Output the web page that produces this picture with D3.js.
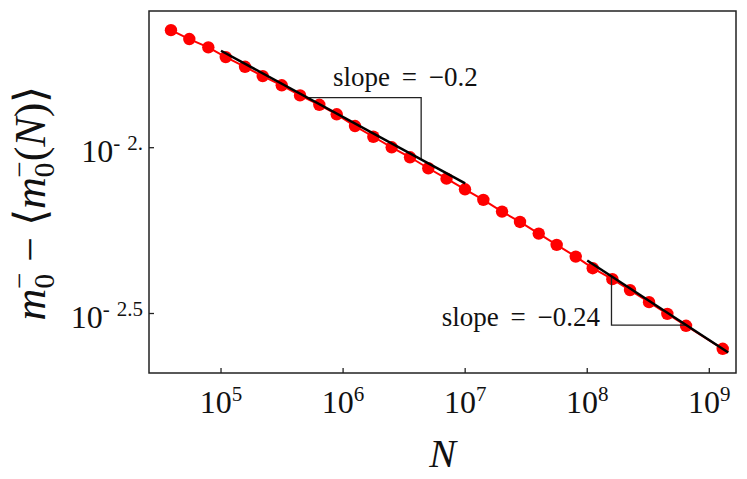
<!DOCTYPE html>
<html>
<head>
<meta charset="utf-8">
<script src="https://cdn.jsdelivr.net/npm/d3@7"></script>
<style>
  body { margin: 0; background: #fff; }
</style>
</head>
<body>
<div id="chart"></div>
<script>
// system sizes N and the gap m0- - <m0-(N)>
const sizeN = [3.89e4, 5.50e4, 7.87e4, 1.093e5, 1.573e5, 2.196e5, 3.143e5, 4.439e5, 6.387e5, 8.868e5,
  1.252e6, 1.769e6, 2.502e6, 3.535e6, 4.992e6, 7.037e6, 9.97e6, 1.409e7, 2.005e7, 2.814e7,
  4.005e7, 5.62e7, 8.05e7, 1.109e8, 1.606e8, 2.242e8, 3.209e8, 4.531e8, 6.447e8, 1.288e9];
const gapValues = [0.02262, 0.02126, 0.02007, 0.01876, 0.01754, 0.01644, 0.01542, 0.01438, 0.01347, 0.01261,
  0.01162, 0.01079, 0.01003, 0.009357, 0.008670, 0.008065, 0.007493, 0.006961, 0.006416, 0.005972,
  0.005508, 0.005092, 0.004695, 0.004332, 0.004014, 0.003720, 0.003422, 0.003155, 0.002904, 0.002475];

// power-law fits: y = amp * N^slope
const fitSlopes = [-0.2, -0.24];
const fitAmps = [0.196, 0.380];
const fitRanges = [[1e5, 1e7], [1e8, 1.43e9]];
const fitLabels = ["slope = \u22120.2", "slope = \u22120.24"];
const triangleRanges = [[5.1e5, 4.36e6], [1.58e8, 6.5e8]];

const xTickExps = [5, 6, 7, 8, 9];
const yTickValues = [1e-2, Math.pow(10, -2.5)];
const yTickSups = ["2.", "2.5"];

const W = 747, H = 479;
const margin = { top: 11, right: 11, bottom: 106, left: 149 };
const width = W - margin.left - margin.right;
const height = H - margin.top - margin.bottom;
const serif = "'Liberation Serif', 'Times New Roman', Times, serif";

const svg = d3.select("#chart").append("svg")
  .attr("width", W)
  .attr("height", H)
  .attr("font-family", serif)
  .style("font-family", serif);

const g = svg.append("g")
  .attr("transform", "translate(" + margin.left + "," + margin.top + ")");

const x = d3.scaleLog()
  .domain([Math.pow(10, 4.41), Math.pow(10, 9.2187)])
  .range([0, width]);
const y = d3.scaleLog()
  .domain([Math.pow(10, -2.6794), Math.pow(10, -1.5878)])
  .range([height, 0]);

const fit = (i, n) => fitAmps[i] * Math.pow(n, fitSlopes[i]);

// data line + markers
const line = d3.line().x(d => x(d[0])).y(d => y(d[1]));
const pts = sizeN.map((n, i) => [n, gapValues[i]]);

g.append("path")
  .datum(pts)
  .attr("d", line)
  .attr("fill", "none")
  .attr("stroke", "#ff0000")
  .attr("stroke-width", 2);

g.selectAll(".dot")
  .data(pts)
  .join("circle")
  .attr("class", "dot")
  .attr("cx", d => x(d[0]))
  .attr("cy", d => y(d[1]))
  .attr("r", 6.2)
  .attr("fill", "#ff0000");

// slope triangles
const tri0 = triangleRanges[0], tri1 = triangleRanges[1];
const triangles = [
  [[tri0[0], fit(0, tri0[0])], [tri0[1], fit(0, tri0[0])], [tri0[1], fit(0, tri0[1])]],
  [[tri1[0], fit(1, tri1[0])], [tri1[0], fit(1, tri1[1])], [tri1[1], fit(1, tri1[1])]]
];
g.selectAll(".tri")
  .data(triangles)
  .join("path")
  .attr("class", "tri")
  .attr("d", line)
  .attr("fill", "none")
  .attr("stroke", "#222")
  .attr("stroke-width", 1.3);

// fit lines
g.selectAll(".fit")
  .data(fitRanges.map((r, i) => r.map(n => [n, fit(i, n)])))
  .join("path")
  .attr("class", "fit")
  .attr("d", line)
  .attr("fill", "none")
  .attr("stroke", "#000")
  .attr("stroke-width", 2.5);

// slope labels
g.append("text")
  .attr("x", x(Math.pow(10, 5.918)))
  .attr("y", y(Math.pow(10, -1.814)))
  .attr("font-size", 27)
  .attr("fill", "#111")
  .attr("word-spacing", 5)
  .attr("text-anchor", "start")
  .text(fitLabels[0]);
g.append("text")
  .attr("x", x(Math.pow(10, 8.104)))
  .attr("y", y(Math.pow(10, -2.537)))
  .attr("font-size", 27)
  .attr("fill", "#111")
  .attr("word-spacing", 5)
  .attr("text-anchor", "end")
  .text(fitLabels[1]);

// frame
g.append("rect")
  .attr("width", width)
  .attr("height", height)
  .attr("fill", "none")
  .attr("stroke", "#222")
  .attr("stroke-width", 1.5);

// x ticks (inward)
const xt = g.selectAll(".xtick")
  .data(xTickExps)
  .join("g")
  .attr("class", "xtick")
  .attr("transform", d => "translate(" + x(Math.pow(10, d)) + "," + height + ")");
xt.append("line").attr("y2", -5).attr("stroke", "#222").attr("stroke-width", 1.3);
const xl = xt.append("text")
  .attr("y", 40)
  .attr("text-anchor", "middle")
  .attr("fill", "#111")
  .attr("font-size", 32);
xl.append("tspan").text("10");
xl.append("tspan").attr("font-size", 21).attr("dy", -12).text(d => d);

// y ticks (inward)
const yt = g.selectAll(".ytick")
  .data(yTickValues)
  .join("g")
  .attr("class", "ytick")
  .attr("transform", d => "translate(0," + y(d) + ")");
yt.append("line").attr("x2", 5).attr("stroke", "#222").attr("stroke-width", 1.3);
const yl = yt.append("text")
  .attr("x", -6)
  .attr("y", 14)
  .attr("text-anchor", "end")
  .attr("fill", "#111")
  .attr("font-size", 32);
yl.append("tspan").text("10");
yl.append("tspan").attr("font-size", 21).attr("dy", -12).text("-");
yl.append("tspan").attr("font-size", 21).attr("dx", 7).text((d, i) => yTickSups[i]);

// axis labels
svg.append("text")
  .attr("x", margin.left + width / 2)
  .attr("y", 467)
  .attr("text-anchor", "middle")
  .attr("font-size", 40)
  .attr("fill", "#111")
  .attr("font-style", "italic")
  .text("N");

const ylab = svg.append("text")
  .attr("transform", "translate(45,203) rotate(-90)")
  .attr("text-anchor", "middle")
  .attr("fill", "#111")
  .attr("font-size", 44);
function mMinus(t) {
  t.append("tspan").attr("font-style", "italic").text("m");
  t.append("tspan").attr("font-size", 29).attr("dy", 9).text("0");
  t.append("tspan").attr("font-size", 29).attr("dx", -15).attr("dy", -25).text("\u2212");
}
mMinus(ylab);
ylab.append("tspan").attr("dy", 16).text(" \u2212 \u27E8");
mMinus(ylab);
ylab.append("tspan").attr("dy", 16).text("(");
ylab.append("tspan").attr("font-style", "italic").text("N");
ylab.append("tspan").text(")\u27E9");
</script>
</body>
</html>
